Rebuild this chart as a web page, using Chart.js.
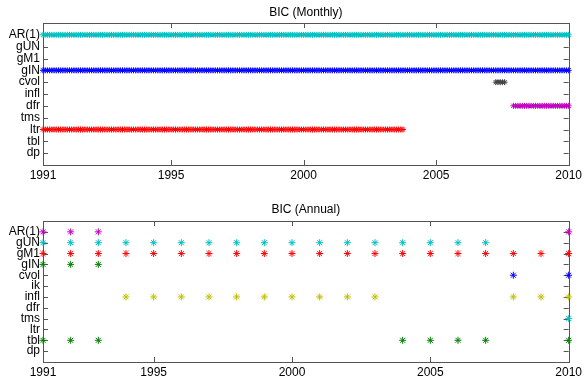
<!DOCTYPE html>
<html>
<head>
<meta charset="utf-8">
<script src="https://cdn.jsdelivr.net/npm/chart.js@4/dist/chart.umd.min.js"></script>
<style>
  body { margin: 0; background: #fff; }
  .panel { position: absolute; left: 0; width: 585px; height: 188px; }
</style>
</head>
<body>
<div class="panel" style="top:0"><canvas id="monthly" width="585" height="188"></canvas></div>
<div class="panel" style="top:188px"><canvas id="annual" width="585" height="188"></canvas></div>
<script>
// categories (top to bottom)
var monthlyCats = ['AR(1)', 'gUN', 'gM1', 'gIN', 'cvol', 'infl', 'dfr', 'tms', 'ltr', 'tbl', 'dp'];
var annualCats = ['AR(1)', 'gUN', 'gM1', 'gIN', 'cvol', 'ik', 'infl', 'dfr', 'tms', 'ltr', 'tbl', 'dp'];

// monthly selection runs [first month, last month]
var monAR1 = [['1990-03', '2010-01']];
var monGIN = [['1990-03', '2010-01']];
var monCVOL = [['2007-04', '2007-08']];
var monDFR = [['2007-12', '2010-01']];
var monLTR = [['1990-03', '2003-10']];

// annual selections (years)
var annAR1 = [1991, 1992, 1993, 2010];
var annGUN = [1991, 1992, 1993, 1994, 1995, 1996, 1997, 1998, 1999, 2000, 2001, 2002, 2003, 2004, 2005, 2006, 2007];
var annGM1 = [1991, 1992, 1993, 1994, 1995, 1996, 1997, 1998, 1999, 2000, 2001, 2002, 2003, 2004, 2005, 2006, 2007, 2008, 2009, 2010];
var annGIN = [1991, 1992, 1993];
var annCVOL = [2008, 2010];
var annINFL = [1994, 1995, 1996, 1997, 1998, 1999, 2000, 2001, 2002, 2003, 2008, 2009, 2010];
var annTMS = [2010];
var annTBL = [1991, 1992, 1993, 2004, 2005, 2006, 2007, 2010];

// x ticks
var monTickVals = [1990 + 2 / 12, 1995, 2000, 2005, 2010];
var annTickVals = [1991, 1995, 2000, 2005, 2010];
var xTickLabels = ['1991', '1995', '2000', '2005', '2010'];

function ym(s) {
  var p = s.split('-');
  return +p[0] + (+p[1] - 1) / 12;
}

function expandRuns(runs, row) {
  var pts = [];
  runs.forEach(function (r) {
    var a = Math.round(ym(r[0]) * 12), b = Math.round(ym(r[1]) * 12);
    for (var m = a; m <= b; m++) pts.push({ x: m / 12, y: row });
  });
  return pts;
}

function yearPts(years, row) {
  return years.map(function (y) { return { x: y, y: row }; });
}

function ds(data, color, r) {
  return {
    data: data,
    showLine: false,
    pointStyle: 'star',
    pointRadius: r,
    pointBorderWidth: 1,
    borderColor: color,
    backgroundColor: color,
    clip: false
  };
}

var boxPlugin = {
  id: 'box',
  beforeDatasetsDraw: function (chart) {
    var ctx = chart.ctx, a = chart.chartArea;
    var xs = chart.scales.x, ys = chart.scales.y;
    ctx.save();
    ctx.strokeStyle = '#555';
    ctx.lineWidth = 1;
    ctx.strokeRect(Math.round(a.left) + 0.5, Math.round(a.top) + 0.5,
      Math.round(a.right - a.left), Math.round(a.bottom - a.top));
    ctx.beginPath();
    ys.ticks.forEach(function (t) {
      var py = Math.round(ys.getPixelForValue(t.value)) + 0.5;
      ctx.moveTo(a.left, py); ctx.lineTo(a.left + 5, py);
      ctx.moveTo(a.right, py); ctx.lineTo(a.right - 5, py);
    });
    xs.ticks.forEach(function (t) {
      var px = Math.round(xs.getPixelForValue(t.value)) + 0.5;
      ctx.moveTo(px, a.top); ctx.lineTo(px, a.top + 5);
      ctx.moveTo(px, a.bottom); ctx.lineTo(px, a.bottom - 5);
    });
    ctx.stroke();
    ctx.restore();
  },
  afterDraw: function (chart) {
    var ctx = chart.ctx, a = chart.chartArea;
    var o = chart.options.plugins.box;
    ctx.save();
    ctx.fillStyle = '#000';
    ctx.font = '12px "Liberation Sans", Arial, sans-serif';
    ctx.textAlign = 'center';
    ctx.textBaseline = 'middle';
    ctx.fillText(o.title, (a.left + a.right) / 2, o.titleY);
    ctx.restore();
  }
};

function makeChart(id, datasets, cats, xMin, tickVals, pad, xH, title, titleY) {
  var tickFont = { family: '"Liberation Sans", Arial, sans-serif', size: 12 };
  return new Chart(document.getElementById(id), {
    type: 'scatter',
    data: { datasets: datasets },
    plugins: [boxPlugin],
    options: {
      responsive: false,
      animation: false,
      events: [],
      layout: { padding: pad },
      plugins: {
        legend: { display: false },
        tooltip: { enabled: false },
        box: { title: title, titleY: titleY }
      },
      scales: {
        x: {
          type: 'linear',
          min: xMin,
          max: 2010,
          grid: { display: false, drawTicks: false },
          border: { display: false },
          afterBuildTicks: function (s) {
            s.ticks = tickVals.map(function (v) { return { value: v }; });
          },
          afterFit: function (s) { s.height = xH; },
          ticks: {
            padding: 3,
            color: '#000',
            font: tickFont,
            maxRotation: 0,
            autoSkip: false,
            callback: function (v, i) { return xTickLabels[i]; }
          }
        },
        y: {
          type: 'linear',
          min: 0,
          max: cats.length + 1,
          reverse: true,
          grid: { display: false, drawTicks: false },
          border: { display: false },
          afterBuildTicks: function (s) {
            s.ticks = cats.map(function (c, i) { return { value: i + 1 }; });
          },
          afterFit: function (s) { s.width = 43; },
          ticks: {
            padding: 3,
            color: '#000',
            font: tickFont,
            autoSkip: false,
            callback: function (v) { return cats[v - 1]; }
          }
        }
      }
    }
  });
}

var cyan = 'rgb(0,191,191)', magenta = 'rgb(191,0,191)', red = 'rgb(255,0,0)';
var green = 'rgb(0,128,0)', blue = 'rgb(0,0,255)', olive = 'rgb(191,191,0)', dark = 'rgb(64,64,64)';

function mrow(name) { return monthlyCats.indexOf(name) + 1; }
function arow(name) { return annualCats.indexOf(name) + 1; }

makeChart('monthly', [
  ds(expandRuns(monAR1, mrow('AR(1)')), cyan, 3),
  ds(expandRuns(monGIN, mrow('gIN')), blue, 3),
  ds(expandRuns(monCVOL, mrow('cvol')), dark, 3),
  ds(expandRuns(monDFR, mrow('dfr')), magenta, 3),
  ds(expandRuns(monLTR, mrow('ltr')), red, 3)
], monthlyCats, monTickVals[0], monTickVals, { top: 23, right: 13, left: 0, bottom: 0 }, 23, 'BIC (Monthly)', 13);

makeChart('annual', [
  ds(yearPts(annAR1, arow('AR(1)')), magenta, 3.5),
  ds(yearPts(annGUN, arow('gUN')), cyan, 3.5),
  ds(yearPts(annGM1, arow('gM1')), red, 3.5),
  ds(yearPts(annGIN, arow('gIN')), green, 3.5),
  ds(yearPts(annCVOL, arow('cvol')), blue, 3.5),
  ds(yearPts(annINFL, arow('infl')), olive, 3.5),
  ds(yearPts(annTMS, arow('tms')), cyan, 3.5),
  ds(yearPts(annTBL, arow('tbl')), green, 3.5)
], annualCats, 1991, annTickVals, { top: 33, right: 14, left: 0, bottom: 0 }, 14, 'BIC (Annual)', 22);
</script>
</body>
</html>
